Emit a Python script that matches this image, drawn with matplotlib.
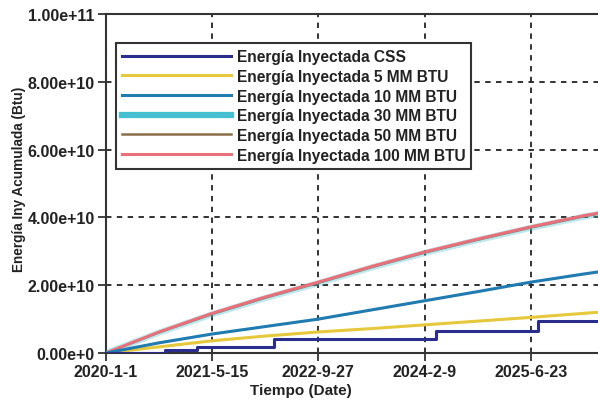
import numpy as np
import matplotlib
matplotlib.use("Agg")
import matplotlib.pyplot as plt
import matplotlib.dates as mdates
import datetime as dt

plt.rcParams['font.family'] = ['Liberation Sans', 'DejaVu Sans']

start = dt.date(2020, 1, 1)

# days since 2020-01-01 and cumulative injected energy (Btu)
days_smooth = [0, 250, 500, 750, 1000, 1250, 1500, 1750, 2000, 2250, 2383]
e100 = [0, 0.62e10, 1.17e10, 1.65e10, 2.09e10, 2.55e10, 2.98e10, 3.36e10, 3.72e10, 4.05e10, 4.20e10]
e50 = [0, 0.61e10, 1.15e10, 1.63e10, 2.07e10, 2.53e10, 2.96e10, 3.34e10, 3.70e10, 4.03e10, 4.18e10]
e30 = [0, 0.60e10, 1.14e10, 1.62e10, 2.06e10, 2.52e10, 2.95e10, 3.33e10, 3.69e10, 4.02e10, 4.17e10]
e10 = [0, 0.30e10, 0.56e10, 0.78e10, 1.00e10, 1.27e10, 1.54e10, 1.81e10, 2.09e10, 2.33e10, 2.45e10]
e5 = [0, 0.18e10, 0.36e10, 0.50e10, 0.62e10, 0.72e10, 0.83e10, 0.94e10, 1.05e10, 1.17e10, 1.23e10]

days_css = [0, 280, 430, 790, 1553, 2036, 2383]
e_css = [0, 0.10e10, 0.19e10, 0.40e10, 0.65e10, 0.95e10, 0.95e10]

yticks = [0, 2e10, 4e10, 6e10, 8e10, 1e11]
ytick_labels = ["0.00e+0", "2.00e+10", "4.00e+10", "6.00e+10", "8.00e+10", "1.00e+11"]
xtick_dates = [dt.date(2020, 1, 1), dt.date(2021, 5, 15), dt.date(2022, 9, 27),
               dt.date(2024, 2, 9), dt.date(2025, 6, 23)]
xtick_labels = ["2020-1-1", "2021-5-15", "2022-9-27", "2024-2-9", "2025-6-23"]

labels = ["Energía Inyectada CSS", "Energía Inyectada 5 MM BTU", "Energía Inyectada 10 MM BTU",
          "Energía Inyectada 30 MM BTU", "Energía Inyectada 50 MM BTU", "Energía Inyectada 100 MM BTU"]


def to_dates(d):
    return [start + dt.timedelta(days=int(x)) for x in d]


W, H = 598, 402
fig = plt.figure(figsize=(W / 100, H / 100), dpi=100)
ax_w = 612 - 106
ax = fig.add_axes([106 / W, (H - 354) / H, ax_w / W, (354 - 15) / H])

l_css, = ax.plot(to_dates(days_css), e_css, drawstyle='steps-post', color='#2a2d8c', lw=2.2, zorder=6)
l5, = ax.plot(to_dates(days_smooth), e5, color='#e6c83c', lw=2.2, zorder=5)
l10, = ax.plot(to_dates(days_smooth), e10, color='#1f7bb0', lw=2.2, zorder=5)
l30, = ax.plot(to_dates(days_smooth), e30, color='#45c0d0', lw=4.5, alpha=0.35, zorder=3)
l50, = ax.plot(to_dates(days_smooth), e50, color='#8a6e48', lw=1.8, zorder=2)
l100, = ax.plot(to_dates(days_smooth), e100, color='#e8707a', lw=2.2, zorder=4)

ax.set_xlim(start, start + dt.timedelta(days=2383))
ax.set_ylim(0, 1e11)
ax.set_yticks(yticks)
ax.set_yticklabels(ytick_labels)
ax.set_xticks(to_dates([(d - start).days for d in xtick_dates]))
ax.set_xticklabels(xtick_labels)

for lab in ax.get_xticklabels() + ax.get_yticklabels():
    lab.set_fontweight('bold')
    lab.set_fontsize(11.5)
    lab.set_color('#222222')

ax.tick_params(axis='both', direction='out', length=6, width=1.3, color='#333333', pad=2)
ax.grid(True, color='#222222', linestyle=(0, (3, 3)), linewidth=1.3)
for s in ['left', 'bottom', 'top', 'right']:
    ax.spines[s].set_color('#333333')
    ax.spines[s].set_linewidth(1.5)

ax.set_xlabel("Tiempo (Date)", fontsize=11, fontweight='bold', color='#222222')
ax.xaxis.set_label_coords((301 - 106) / ax_w, -(391 - 354) / 339)
ax.xaxis.label.set_va('center')
ax.set_ylabel("Energía Iny Acumulada (Btu)", fontsize=9.8, fontweight='bold', color='#222222')
ax.yaxis.set_label_coords(-(106 - 19) / ax_w, (354 - 179) / 339)
ax.yaxis.label.set_va('center')

leg = ax.legend([l_css, l5, l10, l30, l50, l100], labels,
                loc='upper left', bbox_to_anchor=((116 - 106) / ax_w, (354 - 44) / 339),
                borderaxespad=0, fancybox=False, framealpha=1, edgecolor='#333333',
                handlelength=7.0, handletextpad=0.35, labelspacing=0.3,
                prop={'weight': 'bold', 'size': 11.2}, borderpad=0.4)
leg.get_frame().set_linewidth(1.5)
leg.set_zorder(10)
for h in leg.legend_handles:
    h.set_alpha(1)
for t in leg.get_texts():
    t.set_color('#222222')

fig.savefig("out.png", dpi=100)
